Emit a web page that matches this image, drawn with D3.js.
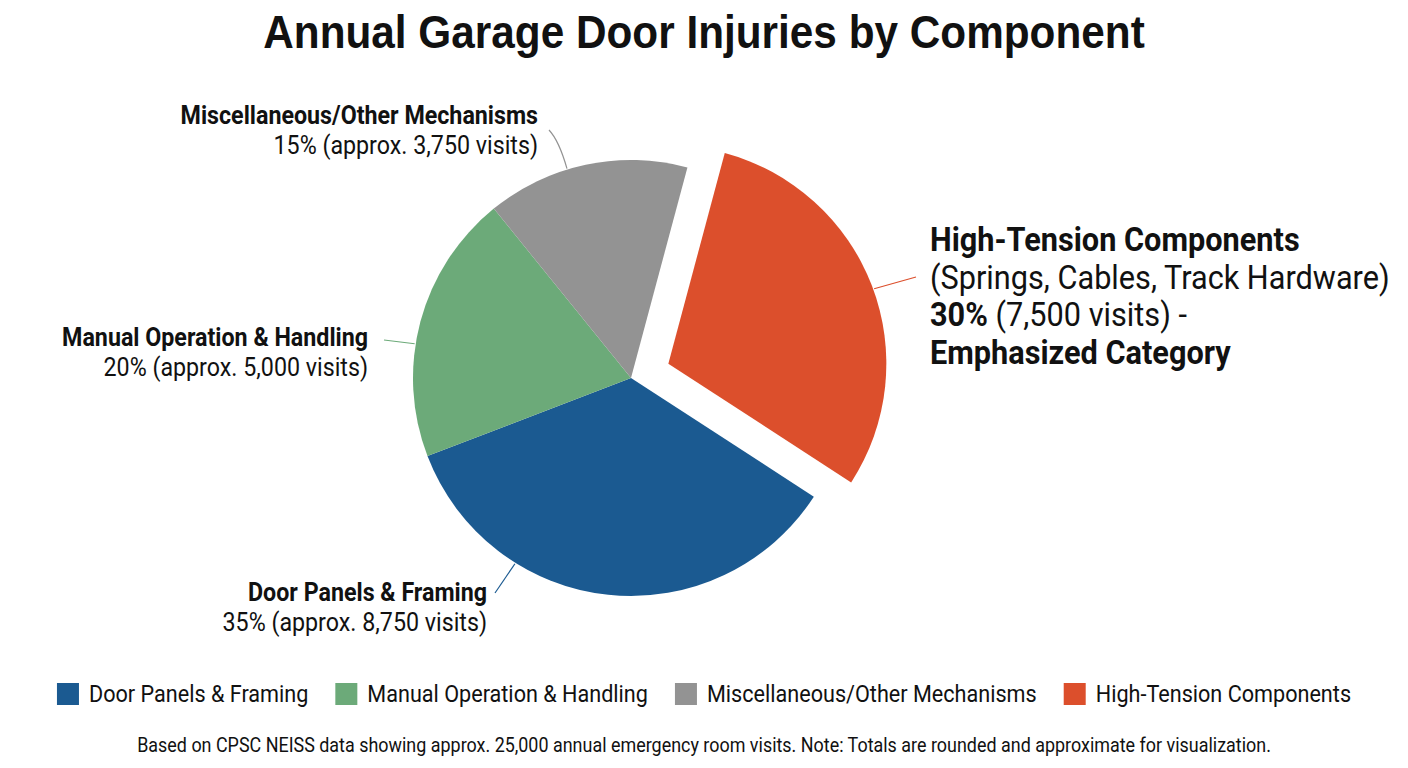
<!DOCTYPE html>
<html>
<head>
<meta charset="utf-8">
<script src="https://cdn.jsdelivr.net/npm/d3@7"></script>
<style>
  body { margin: 0; background: #fff; }
  text { font-family: Roboto, "Noto Sans", sans-serif; fill: #111; }
</style>
</head>
<body>
<script>
var W = 1408, H = 768;

// data
var categories = ["Door Panels & Framing", "Manual Operation & Handling", "Miscellaneous/Other Mechanisms", "High-Tension Components"];
var shares = [35, 20, 15, 30];
var visits = [8750, 5000, 3750, 7500];
var colors = ["#1b5a91", "#6caa79", "#939393", "#dc4f2c"];
var subLabels = ["35% (approx. 8,750 visits)", "20% (approx. 5,000 visits)", "15% (approx. 3,750 visits)", "30% (7,500 visits) -"];

var cx = 631, cy = 378, radius = 218;
var explodeIdx = 3, explodeDist = 40;

var svg = d3.select("body").append("svg")
    .attr("width", W).attr("height", H);

// title
svg.append("text")
    .attr("transform", "translate(704,48) scale(0.92,1)")
    .attr("text-anchor", "middle")
    .style("font-family", "'Liberation Sans', Arial, sans-serif")
    .style("font-weight", "bold")
    .style("font-size", "46px")
    .text("Annual Garage Door Injuries by Component");

var deg = Math.PI / 180;
var pie = d3.pie().sort(null).value(function(d) { return d; })
    .startAngle(123 * deg).endAngle(483 * deg);
var arcs = pie(shares);

var arc = d3.arc().innerRadius(0).outerRadius(radius);

var g = svg.append("g").attr("transform", "translate(" + cx + "," + cy + ")");

function offset(d, i) {
  if (i !== explodeIdx) return [0, 0];
  var a = (d.startAngle + d.endAngle) / 2;
  return [Math.sin(a) * explodeDist, -Math.cos(a) * explodeDist];
}

g.selectAll("path.slice")
    .data(arcs)
  .enter().append("path")
    .attr("class", "slice")
    .attr("d", arc)
    .attr("transform", function(d, i) { var o = offset(d, i); return "translate(" + o[0] + "," + o[1] + ")"; })
    .style("fill", function(d, i) { return colors[i]; });

// leader lines: angle on the rim (deg) and end point
var leaderAngles = [212, 279, 343, 70];
var leaderEnds = [[495, 593], [384, 340], [549, 130], [916, 277]];

g.selectAll("path.leader")
    .data(arcs)
  .enter().append("path")
    .attr("class", "leader")
    .attr("d", function(d, i) {
      var o = offset(d, i);
      var a = leaderAngles[i] * deg;
      var x0 = o[0] + Math.sin(a) * (radius + 1), y0 = o[1] - Math.cos(a) * (radius + 1);
      var x1 = leaderEnds[i][0] - cx, y1 = leaderEnds[i][1] - cy;
      if (i === 2) {
        return "M" + x0 + "," + y0 + "Q" + (x0 - 8) + "," + (y0 - 28) + " " + x1 + "," + y1;
      }
      return "M" + x0 + "," + y0 + "L" + x1 + "," + y1;
    })
    .style("fill", "none")
    .style("stroke", function(d, i) { return colors[i]; })
    .style("stroke-width", 1.2);

// outside labels for the three smaller callouts
var labelPos = [[487, 601], [368, 346], [538, 124]];
var labelSize = 25, lineGap = 30, sx = 0.93;

[0, 1, 2].forEach(function(i) {
  var p = labelPos[i];
  svg.append("text")
      .attr("transform", "translate(" + p[0] + "," + p[1] + ") scale(" + sx + ",1)")
      .attr("text-anchor", "end")
      .style("font-weight", "bold")
      .style("font-size", labelSize + "px")
      .text(categories[i]);
  svg.append("text")
      .attr("transform", "translate(" + p[0] + "," + (p[1] + lineGap) + ") scale(" + sx + ",1)")
      .attr("text-anchor", "end")
      .style("font-size", labelSize + "px")
      .text(subLabels[i]);
});

// emphasized label
var hx = 930, hy = 251, hGap = 37.5, hSize = 33, hsx = 0.93;
svg.append("text")
    .attr("transform", "translate(" + hx + "," + hy + ") scale(" + hsx + ",1)")
    .style("font-weight", "bold").style("font-size", hSize + "px")
    .text(categories[3]);
svg.append("text")
    .attr("transform", "translate(" + hx + "," + (hy + hGap) + ") scale(" + hsx + ",1)")
    .style("font-size", hSize + "px")
    .text("(Springs, Cables, Track Hardware)");
var t3 = svg.append("text")
    .attr("transform", "translate(" + hx + "," + (hy + 2 * hGap) + ") scale(" + hsx + ",1)")
    .style("font-size", hSize + "px");
t3.append("tspan").style("font-weight", "bold").text(shares[3] + "%");
t3.append("tspan").text(" (" + d3.format(",")(visits[3]) + " visits) -");
svg.append("text")
    .attr("transform", "translate(" + hx + "," + (hy + 3 * hGap) + ") scale(" + hsx + ",1)")
    .style("font-weight", "bold").style("font-size", hSize + "px")
    .text("Emphasized Category");

// legend
var legend = svg.append("g");
var lx = 0, box = 22, legendY = 694, lsx = 0.94;
categories.forEach(function(c, i) {
  var item = legend.append("g").attr("transform", "translate(" + lx + ",0)");
  item.append("rect")
      .attr("x", 0).attr("y", legendY - box / 2)
      .attr("width", box).attr("height", box)
      .style("fill", colors[i]);
  var t = item.append("text")
      .attr("transform", "translate(" + (box + 10) + "," + (legendY + 8) + ") scale(" + lsx + ",1)")
      .style("font-size", "23px")
      .text(c);
  lx += box + 10 + t.node().getComputedTextLength() * lsx + 27;
});
var legendW = lx - 27;
legend.attr("transform", "translate(" + (W / 2 - legendW / 2) + ",0)");

// footnote
svg.append("text")
    .attr("transform", "translate(704,752) scale(0.92,1)")
    .attr("text-anchor", "middle")
    .style("font-size", "19.5px")
    .text("Based on CPSC NEISS data showing approx. 25,000 annual emergency room visits. Note: Totals are rounded and approximate for visualization.");
</script>
</body>
</html>
